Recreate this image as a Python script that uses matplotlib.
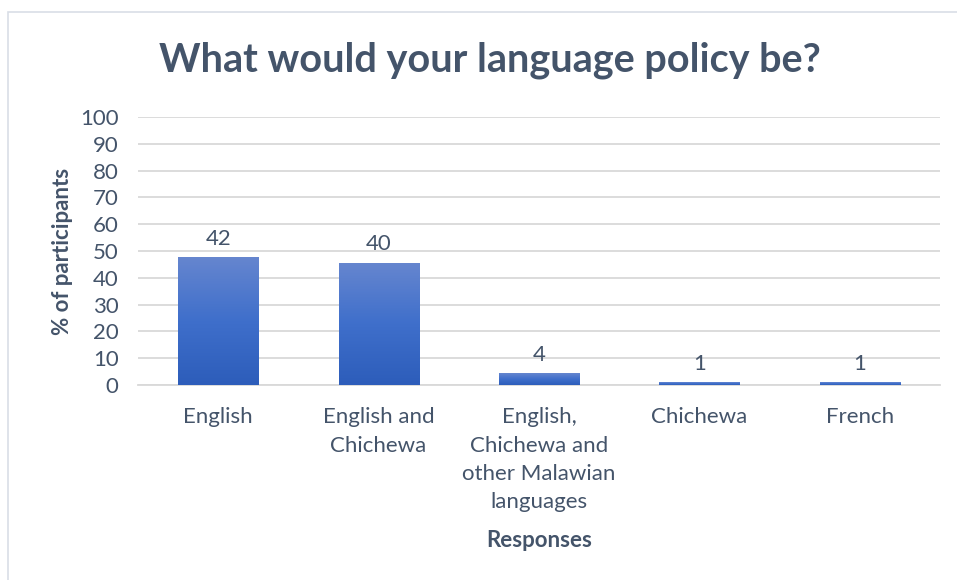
import matplotlib
matplotlib.use("Agg")
import matplotlib.pyplot as plt
import numpy as np
from matplotlib.patches import Rectangle
from matplotlib.colors import LinearSegmentedColormap

categories = ["English", "English and\nChichewa", "English,\nChichewa and\nother Malawian\nlanguages", "Chichewa", "French"]
bar_values = [47.8, 45.6, 4.3, 1.1, 1.1]
data_labels = ["42", "40", "4", "1", "1"]
yticks = [0, 10, 20, 30, 40, 50, 60, 70, 80, 90, 100]

plt.rcParams['font.family'] = ['Lato', 'DejaVu Sans']
txt = "#44546A"
grid = "#D9D9D9"

fig = plt.figure(figsize=(9.57, 5.8), dpi=100)
# chart border (right and bottom edges fall outside the image)
fig.patches.append(Rectangle((8/957, -0.1), 1.2, 1.1 - 12/580, transform=fig.transFigure,
                             fill=False, edgecolor="#D9DEE6", linewidth=1.2))
ax = fig.add_axes([138/957, 1 - 385/580, (940 - 138)/957, (385 - 117)/580])

x = np.arange(len(categories))
bars = ax.bar(x, bar_values, width=0.5, color="#4472C4", zorder=2)
grad = np.linspace(0, 1, 256).reshape(-1, 1)
cmap = LinearSegmentedColormap.from_list("g", ["#2D5DBA", "#3F6FCB", "#6686CF"])
for b in bars:
    x0, w, h = b.get_x(), b.get_width(), b.get_height()
    im = ax.imshow(grad, extent=[x0, x0 + w, 0, h], origin="lower", cmap=cmap,
                   aspect="auto", zorder=3)
    im.set_clip_path(b)
    b.set_facecolor("none")

for xi, v, lab in zip(x, bar_values, data_labels):
    ax.annotate(lab, (xi, v), xytext=(0, 6), textcoords="offset points",
                ha="center", va="bottom", fontsize=16, color=txt)

ax.set_xlim(-0.5, len(categories) - 0.5)
ax.set_ylim(0, 100)
ax.set_yticks(yticks)
ax.set_yticklabels([str(t) for t in yticks], fontsize=16, color=txt)
ax.set_xticks(x)
ax.set_xticklabels(categories, fontsize=16, color=txt, linespacing=1.52, va="top")
ax.tick_params(axis="both", length=0)
ax.tick_params(axis="y", pad=14)
ax.tick_params(axis="x", pad=16)
ax.grid(axis="y", color=grid, linewidth=1.3, zorder=0)
ax.set_axisbelow(True)
for s in ["top", "right", "left"]:
    ax.spines[s].set_visible(False)
ax.spines["bottom"].set_color(grid)
ax.spines["bottom"].set_linewidth(1.3)

ax.set_ylabel("% of participants", fontsize=16, fontweight="bold", color=txt, labelpad=5)
ax.set_xlabel("Responses", fontsize=16, fontweight="bold", color=txt, labelpad=13)
fig.text(490/957, 1 - 60/580, "What would your language policy be?", ha="center", va="center",
         fontsize=28.5, fontweight="bold", color=txt)

fig.savefig("out.png", dpi=100)
